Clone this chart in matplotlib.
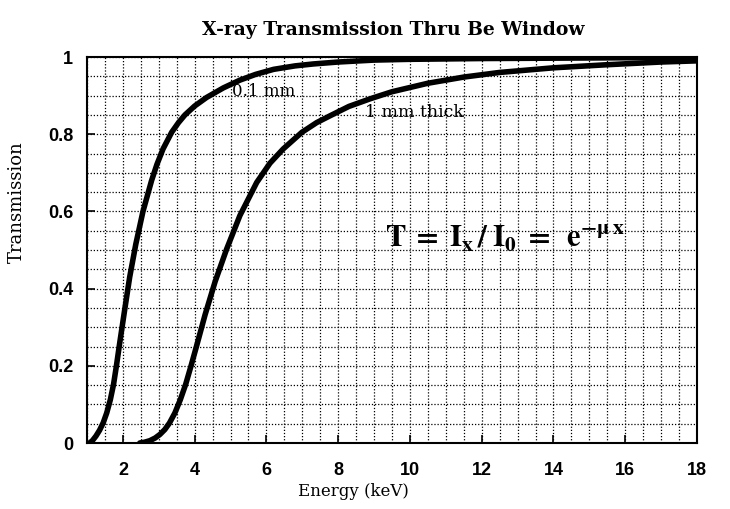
import matplotlib
matplotlib.use("Agg")
import matplotlib.pyplot as plt
import numpy as np

# values
energy_thin = [1.07, 1.15, 1.25, 1.35, 1.45, 1.55, 1.65, 1.74, 1.82, 1.91, 2.05, 2.19, 2.36,
               2.56, 2.80, 2.95, 3.12, 3.36, 3.55, 3.73, 4.0, 4.33, 4.8, 5.26, 5.7, 6.2, 6.8,
               7.31, 8.0, 9.0, 10.0, 12.0, 14.0, 16.0, 18.0]
trans_thin = [0.0, 0.006, 0.018, 0.033, 0.052, 0.078, 0.112, 0.152, 0.2, 0.258, 0.345, 0.43,
              0.515, 0.6, 0.68, 0.722, 0.762, 0.805, 0.83, 0.85, 0.873, 0.895, 0.92, 0.94,
              0.955, 0.968, 0.977, 0.982, 0.987, 0.992, 0.994, 0.996, 0.997, 0.998, 0.999]

energy_thick = [2.47, 2.6, 2.75, 2.9, 3.03, 3.17, 3.3, 3.45, 3.6, 3.75, 3.9, 4.05, 4.29, 4.57,
                4.89, 5.26, 5.73, 6.1, 6.47, 6.99, 7.4, 7.78, 8.3, 8.9, 9.5, 10.5, 11.5, 12.5,
                14.0, 15.5, 17.0, 18.0]
trans_thick = [0.0, 0.002, 0.006, 0.013, 0.022, 0.035, 0.052, 0.078, 0.112, 0.152, 0.2, 0.25,
               0.332, 0.418, 0.502, 0.589, 0.675, 0.725, 0.762, 0.805, 0.83, 0.848, 0.872,
               0.892, 0.91, 0.932, 0.948, 0.96, 0.972, 0.98, 0.987, 0.99]

x_ticks = [2, 4, 6, 8, 10, 12, 14, 16, 18]
y_ticks = [0, 0.2, 0.4, 0.6, 0.8, 1.0]
y_tick_labels = ["0", "0.2", "0.4", "0.6", "0.8", "1"]

serif = "DejaVu Serif"
sans = "Liberation Sans"

fig = plt.figure(figsize=(7.30, 5.09), dpi=100)
ax = fig.add_axes([87 / 730, 1 - 443 / 509, 610 / 730, 386 / 509])

ax.plot(energy_thin, trans_thin, color="black", lw=4, solid_capstyle="round",
        solid_joinstyle="round", zorder=3)
ax.plot(energy_thick, trans_thick, color="black", lw=4, solid_capstyle="round",
        solid_joinstyle="round", zorder=3)

ax.set_xlim(1, 18)
ax.set_ylim(0, 1)
ax.set_xticks(x_ticks)
ax.set_xticks(np.arange(1, 18.01, 0.5), minor=True)
ax.set_yticks(y_ticks)
ax.set_yticklabels(y_tick_labels)
ax.set_yticks(np.arange(0, 1.001, 0.05), minor=True)

ax.grid(which="both", color="black", linestyle=(0, (1, 1.5)), linewidth=0.9)
ax.tick_params(which="major", direction="in", length=6, width=1.2, pad=10)
ax.tick_params(which="minor", length=0)
ax.tick_params(axis="x", pad=14)
for lab in ax.get_xticklabels() + ax.get_yticklabels():
    lab.set_fontfamily(sans)
    lab.set_fontweight("bold")
    lab.set_fontsize(13)
for sp in ax.spines.values():
    sp.set_linewidth(1.5)

fig.text(393 / 730, 1 - 30 / 509, "X-ray Transmission Thru Be Window", ha="center", va="center",
         family=serif, fontweight="bold", fontsize=13.5)
fig.text(353 / 730, 1 - 491 / 509, "Energy (keV)", ha="center", va="center",
         family=serif, fontsize=12)
fig.text(17 / 730, 1 - 202 / 509, "Transmission", ha="center", va="center", rotation=90,
         family=serif, fontsize=13)

ax.text(5.04, 0.899, "0.1 mm", family=serif, fontsize=12, ha="left", va="baseline")
ax.text(8.75, 0.845, "1 mm thick", family=serif, fontsize=12.5, ha="left", va="baseline")

plt.rcParams["mathtext.fontset"] = "stix"
ax.text(9.31, 0.508, r"$\mathbf{T\;=\;I_x\,/\;I_0\;=\;\;e^{-\mu\,x}}$", fontsize=22,
        ha="left", va="baseline")

fig.savefig("out.png", dpi=100)
